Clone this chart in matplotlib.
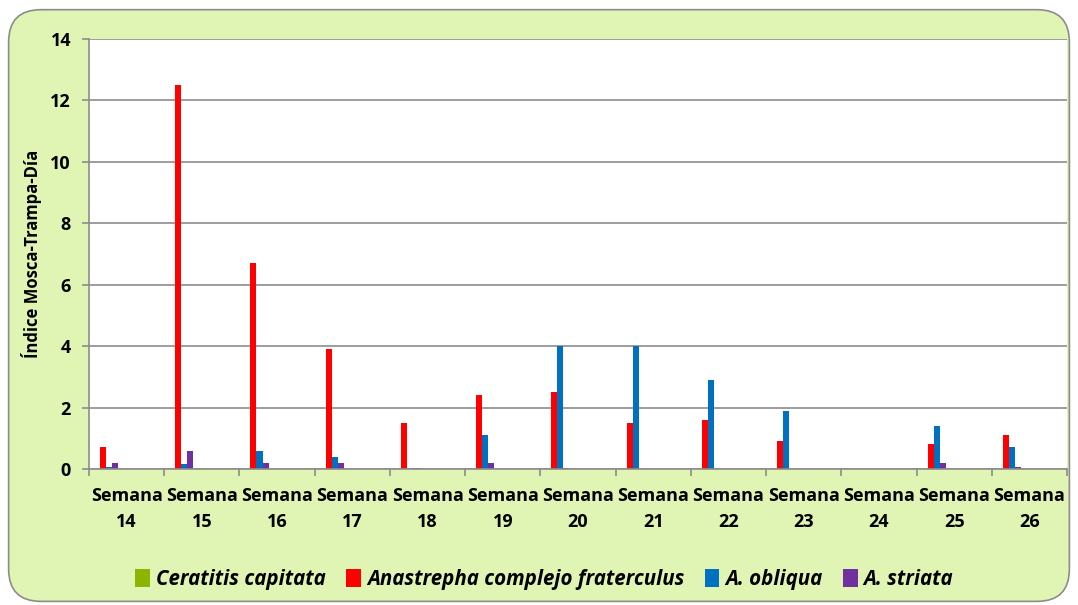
import numpy as np
import matplotlib.pyplot as plt
from matplotlib.patches import FancyBboxPatch

semanas = ['14', '15', '16', '17', '18', '19', '20', '21', '22', '23', '24', '25', '26']
ceratitis = [0, 0, 0, 0, 0, 0, 0, 0, 0, 0, 0, 0, 0]
fraterculus = [0.7, 12.5, 6.7, 3.9, 1.5, 2.4, 2.5, 1.5, 1.6, 0.9, 0, 0.8, 1.1]
obliqua = [0.07, 0.17, 0.6, 0.38, 0, 1.1, 4.0, 4.0, 2.9, 1.9, 0, 1.4, 0.7]
striata = [0.18, 0.6, 0.18, 0.18, 0.03, 0.18, 0.03, 0, 0, 0, 0, 0.18, 0.07]

series = [
    ('Ceratitis capitata', ceratitis, '#8DB400'),
    ('Anastrepha complejo fraterculus', fraterculus, '#FF0000'),
    ('A. obliqua', obliqua, '#0070C0'),
    ('A. striata', striata, '#7030A0'),
]

plt.rcParams['font.family'] = ['Open Sans', 'DejaVu Sans']

fig = plt.figure(figsize=(10.78, 6.05), dpi=100)
fig.patch.set_facecolor('white')
bg = FancyBboxPatch((0.008, 0.006), 0.984, 0.978,
                    boxstyle='round,pad=0,rounding_size=0.03',
                    transform=fig.transFigure, facecolor='#E0F5B4',
                    edgecolor='#8C8C8C', linewidth=1.2, mutation_aspect=1.78,
                    zorder=-10)
fig.patches.append(bg)

ax = fig.add_axes([0.0826, 0.2248, 0.9072, 0.7107])
ax.set_facecolor('white')

x = np.arange(len(semanas))
w = 0.08
start = -0.5 + 0.066 + w / 2
for k, (name, vals, col) in enumerate(series):
    ax.bar(x + start + k * w, vals, width=w, color=col, label=name)

ax.set_xlim(-0.5, len(semanas) - 0.5)
ax.set_ylim(0, 14)
ax.set_yticks(range(0, 15, 2))
ax.yaxis.grid(True, color='#8C8C8C', linewidth=1.2)
ax.set_axisbelow(True)

ax.set_xticks(np.arange(-0.5, len(semanas), 1))
ax.set_xticklabels([])
ax.set_xticks(x, minor=True)
ax.set_xticklabels(['Semana\n' + s for s in semanas], minor=True,
                   fontsize=13, fontweight='bold', linespacing=1.55)
ax.tick_params(axis='x', which='minor', length=0, pad=13)
ax.tick_params(axis='x', which='major', length=5, color='#8C8C8C', width=1.2)
ax.tick_params(axis='y', length=5, color='#8C8C8C', width=1.2, labelsize=13, pad=8)
for lab in ax.get_yticklabels():
    lab.set_fontweight('bold')

for side in ['top', 'right']:
    ax.spines[side].set_visible(False)
for side in ['left', 'bottom']:
    ax.spines[side].set_color('#8C8C8C')
    ax.spines[side].set_linewidth(1.2)

ax.set_ylabel('Índice Mosca-Trampa-Día', fontsize=12, fontweight='bold', labelpad=6)

fig.legend(loc='center', bbox_to_anchor=(0.505, 0.042), ncol=4, frameon=False,
           handlelength=0.7, handleheight=0.9, handletextpad=0.3, columnspacing=1.0,
           prop={'size': 14.8, 'weight': 'bold', 'style': 'italic'})

fig.savefig('out.png', dpi=100, facecolor=fig.get_facecolor())
